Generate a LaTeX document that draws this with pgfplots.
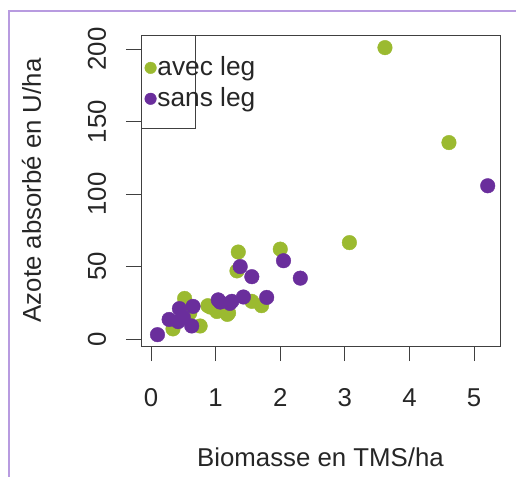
\documentclass[border=0pt]{standalone}
\usepackage{pgfplots}
\pgfplotsset{compat=1.18}
\usepackage{fontspec}
\setmainfont{Liberation Sans}
\definecolor{avec}{HTML}{9BBA30}
\definecolor{sans}{HTML}{6A2E9C}
\definecolor{frame}{HTML}{B89BE0}
\begin{document}
\fontsize{25.8bp}{30bp}\selectfont
\begin{tikzpicture}
\useasboundingbox (0,0) rectangle (516bp,477bp);
\draw[frame, line width=2bp] (8.5bp,0) -- (8.5bp,465.5bp) -- (516bp,465.5bp);
\begin{axis}[
  at={(141bp,131bp)}, anchor=south west,
  scale only axis, width=359bp, height=311bp,
  xmin=-0.155, xmax=5.40, ymin=-4.8, ymax=209.7,
  xtick={0,1,2,3,4,5}, ytick={0,50,100,150,200},
  tick align=outside, major tick length=15bp,
  axis line style={black!75, line width=0.8bp},
  every tick/.style={black!75, line width=0.8bp},
  xtick pos=bottom, ytick pos=left,
  /pgf/number format/assume math mode=true,
  tick label style={font=\fontsize{25.8bp}{30bp}\selectfont, text=black!85},
  xticklabel style={anchor=base}, xticklabel shift=45bp,
  yticklabel style={rotate=90, anchor=base}, yticklabel shift=20bp,
  xlabel={Biomasse en TMS/ha},
  ylabel={Azote absorbé en U/ha},
  label style={font=\fontsize{25.8bp}{30bp}\selectfont, text=black!85},
  xlabel style={at={(axis description cs:0.5,-0.3859)}, anchor=base},
  ylabel style={at={(axis description cs:-0.2786,0.5)}, anchor=base, rotate=0},
  legend style={at={(axis description cs:0.010,0.935)}, anchor=north west, draw=none, fill=none,
    inner sep=0pt, row sep=6bp, font=\fontsize{26.3bp}{30bp}\selectfont,
    nodes={inner sep=1bp, text=black!85}},
  legend cell align=left,
  legend image code/.code={\draw[mark size=5.8bp] plot coordinates {(0bp,0bp)};},
]
\addplot[only marks, mark=*, mark size=7.3bp, mark options={fill=avec, draw=avec}] coordinates {
(0.34,7) (0.52,28) (0.60,18) (0.76,9) (0.88,23) (0.92,22) (1.02,19) (1.18,17)
(1.20,18) (1.33,47) (1.35,60) (1.56,26) (1.71,23) (2.00,62) (3.07,66.5) (3.62,201) (4.61,135.5)
};
\addlegendentry{avec leg}
\addplot[only marks, mark=*, mark size=7.3bp, mark options={fill=sans, draw=sans}] coordinates {
(0.10,3) (0.28,13.5) (0.42,12) (0.44,21) (0.50,15) (0.65,22.5) (0.63,9) (1.04,27)
(1.07,25.5) (1.22,24.6) (1.25,26) (1.38,50) (1.43,29) (1.56,43) (1.79,28.7) (2.05,54) (2.31,42) (5.21,105.7)
};
\addlegendentry{sans leg}
\draw[black!75, line width=0.8bp] (rel axis cs:0,1) rectangle (axis cs:0.68,145.5);
\end{axis}
\end{tikzpicture}
\end{document}
